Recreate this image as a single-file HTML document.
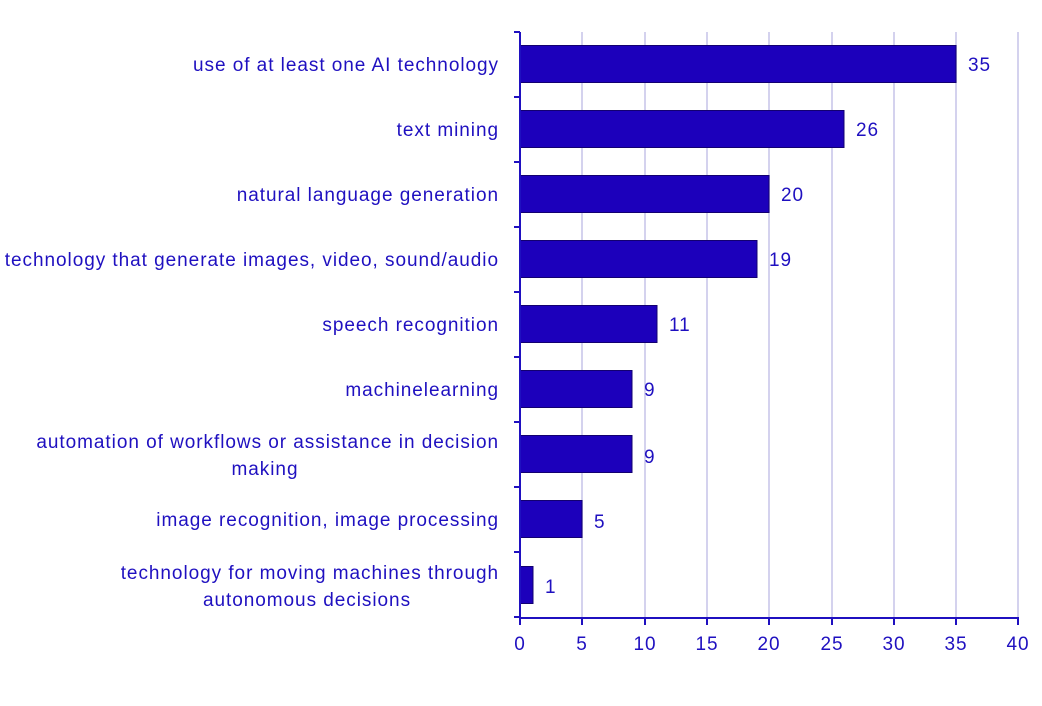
<!DOCTYPE html>
<html><head><style>body{margin:0;background:#fff}svg{display:block}text{font-family:"Liberation Sans",sans-serif;font-size:19px;fill:#1f10c0;letter-spacing:0.95px}</style></head>
<body>
<svg width="1042" height="706" xmlns="http://www.w3.org/2000/svg">
<g stroke="#d4d2ee" stroke-width="2">
<line x1="582" y1="32" x2="582" y2="618"/><line x1="645" y1="32" x2="645" y2="618"/><line x1="707" y1="32" x2="707" y2="618"/><line x1="769" y1="32" x2="769" y2="618"/><line x1="832" y1="32" x2="832" y2="618"/><line x1="894" y1="32" x2="894" y2="618"/><line x1="956" y1="32" x2="956" y2="618"/><line x1="1018" y1="32" x2="1018" y2="618"/>
</g>
<g fill="#1c00bb" stroke="#120070" stroke-width="1">
<rect x="520" y="45.5" width="436" height="37"/>
<rect x="520" y="110.5" width="324" height="37"/>
<rect x="520" y="175.5" width="249" height="37"/>
<rect x="520" y="240.5" width="237" height="37"/>
<rect x="520" y="305.5" width="137" height="37"/>
<rect x="520" y="370.5" width="112" height="37"/>
<rect x="520" y="435.5" width="112" height="37"/>
<rect x="520" y="500.5" width="62" height="37"/>
<rect x="520" y="566.5" width="13" height="37"/>
</g>
<g stroke="#1f10c0" stroke-width="2">
<line x1="520" y1="32" x2="520" y2="619"/><line x1="519" y1="618" x2="1019" y2="618"/>
<line x1="514" y1="32" x2="520" y2="32"/><line x1="514" y1="97" x2="520" y2="97"/><line x1="514" y1="162" x2="520" y2="162"/><line x1="514" y1="227" x2="520" y2="227"/><line x1="514" y1="292" x2="520" y2="292"/><line x1="514" y1="357" x2="520" y2="357"/><line x1="514" y1="422" x2="520" y2="422"/><line x1="514" y1="487" x2="520" y2="487"/><line x1="514" y1="552" x2="520" y2="552"/><line x1="514" y1="617" x2="520" y2="617"/>
<line x1="520" y1="618" x2="520" y2="625"/><line x1="582" y1="618" x2="582" y2="625"/><line x1="645" y1="618" x2="645" y2="625"/><line x1="707" y1="618" x2="707" y2="625"/><line x1="769" y1="618" x2="769" y2="625"/><line x1="832" y1="618" x2="832" y2="625"/><line x1="894" y1="618" x2="894" y2="625"/><line x1="956" y1="618" x2="956" y2="625"/><line x1="1018" y1="618" x2="1018" y2="625"/>
</g>
<g text-anchor="middle">
<text x="520" y="650">0</text><text x="582" y="650">5</text><text x="645" y="650">10</text><text x="707" y="650">15</text><text x="769" y="650">20</text><text x="832" y="650">25</text><text x="894" y="650">30</text><text x="956" y="650">35</text><text x="1018" y="650">40</text>
</g>
<g>
<text x="968" y="71">35</text><text x="856" y="136">26</text><text x="781" y="201">20</text><text x="769" y="266">19</text><text x="669" y="331">11</text><text x="644" y="396">9</text><text x="644" y="463">9</text><text x="594" y="528">5</text><text x="545" y="593">1</text>
</g>
<g text-anchor="end">
<text x="499" y="71">use of at least one AI technology</text>
<text x="499" y="136">text mining</text>
<text x="499" y="201">natural language generation</text>
<text x="499" y="266">technology that generate images, video, sound/audio</text>
<text x="499" y="331">speech recognition</text>
<text x="499" y="396">machinelearning</text>
<text x="499" y="448">automation of workflows or assistance in decision</text>
<text x="265" y="475" text-anchor="middle">making</text>
<text x="499" y="526">image recognition, image processing</text>
<text x="499" y="579">technology for moving machines through</text>
<text x="307" y="606" text-anchor="middle">autonomous decisions</text>
</g>
</svg>
</body></html>
